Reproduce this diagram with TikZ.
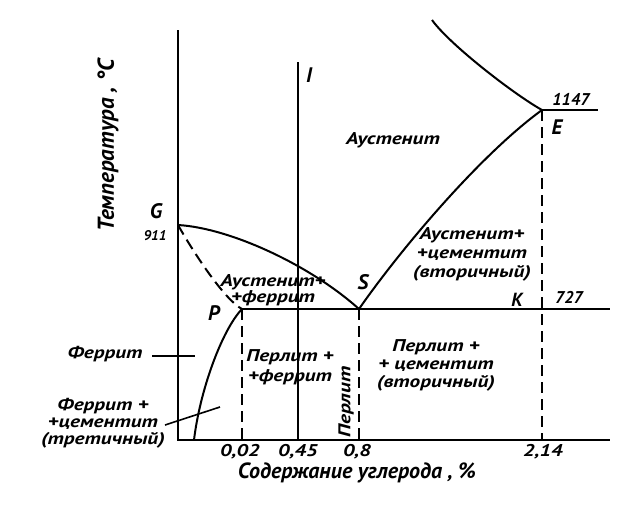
\documentclass[tikz,border=0pt]{standalone}
\usepackage{fontspec}
\setmainfont{PT Sans}
\newfontfamily\widefont[FakeStretch=1.25]{PT Sans}
\begin{document}
\begin{tikzpicture}[x=1pt,y=-1pt,line width=2pt,
  lbl/.style={font=\widefont\bfseries\itshape\fontsize{17}{17}\selectfont,inner sep=0pt,align=center},
  num/.style={font=\bfseries\itshape\fontsize{17}{17}\selectfont,inner sep=0pt},
  tck/.style={font=\widefont\bfseries\itshape\fontsize{17}{17}\selectfont,inner sep=0pt},
  pt/.style={font=\bfseries\itshape\fontsize{21}{21}\selectfont,inner sep=0pt},
  axl/.style={font=\bfseries\itshape\fontsize{22}{22}\selectfont,inner sep=0pt},
  dsh/.style={dash pattern=on 11pt off 6pt}]
\useasboundingbox (0,0) rectangle (640,512);
% key points
\coordinate (O) at (178,440);
\coordinate (Ytop) at (178,30);
\coordinate (Xend) at (610,440);
\coordinate (G) at (178,225);
\coordinate (P) at (242,309);
\coordinate (S) at (359,309);
\coordinate (E) at (542,110);
\coordinate (Kend) at (610,309);
\coordinate (Eend) at (598,110);
\coordinate (Itop) at (298,62);
\coordinate (Ibot) at (298,440);
\coordinate (Pbot) at (242,440);
\coordinate (Sbot) at (359,440);
\coordinate (Ebot) at (542,440);
\coordinate (Q) at (194,440);
\coordinate (Atop) at (432,20);
\coordinate (F1) at (152,356);
\coordinate (F2) at (195,356);
\coordinate (T1) at (165,425);
\coordinate (T2) at (220,407);
% axes
\draw (Ytop) -- (O) -- (Xend);
% lines
\draw (G) .. controls (230,228) and (310,265) .. (S);
\draw (S) .. controls (400,250) and (480,155) .. (E);
\draw (Atop) .. controls (450,45) and (515,95) .. (E);
\draw (E) -- (Eend);
\draw (P) -- (Kend);
\draw[dsh] (G) .. controls (195,255) and (225,300) .. (P);
\draw (P) .. controls (222,330) and (200,390) .. (Q);
\draw (Itop) -- (Ibot);
\draw[dsh] (P) -- (Pbot);
\draw[dsh] (S) -- (Sbot);
\draw[dsh] (E) -- (Ebot);
\draw[line width=1.6pt] (F1) -- (F2);
\draw[line width=1.6pt] (T1) -- (T2);
% labels
\node[pt] (lG) at (156,211) {G};
\node[num,font=\bfseries\itshape\fontsize{14}{14}\selectfont] (l911) at (155,236) {911};
\node[pt] (lI) at (309,75) {I};
\node[pt] (lS) at (363,282) {S};
\node[pt] (lP) at (214,313) {P};
\node[pt,font=\bfseries\itshape\fontsize{19}{19}\selectfont] (lK) at (517,300) {K};
\node[num] (l727) at (569,297) {727};
\node[num] (l1147) at (571,99) {1147};
\node[pt] (lE) at (557,127) {E};
\node[lbl] (aus) at (393,140) {Аустенит};
\node[lbl,font=\widefont\bfseries\itshape\fontsize{17}{19}\selectfont] (auscem) at (472,254) {Аустенит+\\+цементит\\(вторичный)};
\node[lbl,font=\widefont\bfseries\itshape\fontsize{17}{15}\selectfont] (ausfer) at (273,290) {Аустенит+\\+феррит};
\node[lbl,font=\widefont\bfseries\itshape\fontsize{17}{20}\selectfont] (perfer) at (290,367) {Перлит +\\+феррит};
\node[lbl,rotate=90] (per) at (346,402) {Перлит};
\node[lbl,font=\widefont\bfseries\itshape\fontsize{17}{18}\selectfont] (percem) at (436,365) {Перлит +\\+ цементит\\(вторичный)};
\node[lbl] (fer) at (105,354) {Феррит};
\node[lbl] (fercem) at (103,423) {Феррит +\\+цементит\\(третичный)};
\node[tck] (t002) at (240,452) {0,02};
\node[tck] (t045) at (298,452) {0,45};
\node[tck] (t08) at (357,452) {0,8};
\node[tck] (t214) at (543,452) {2,14};
\node[axl] (xl) at (357,473) {Содержание углерода , \%};
\node[axl,font=\bfseries\itshape\fontsize{23}{23}\selectfont,rotate=90] (yl) at (108,145) {Температура , °С};
\end{tikzpicture}
\end{document}
